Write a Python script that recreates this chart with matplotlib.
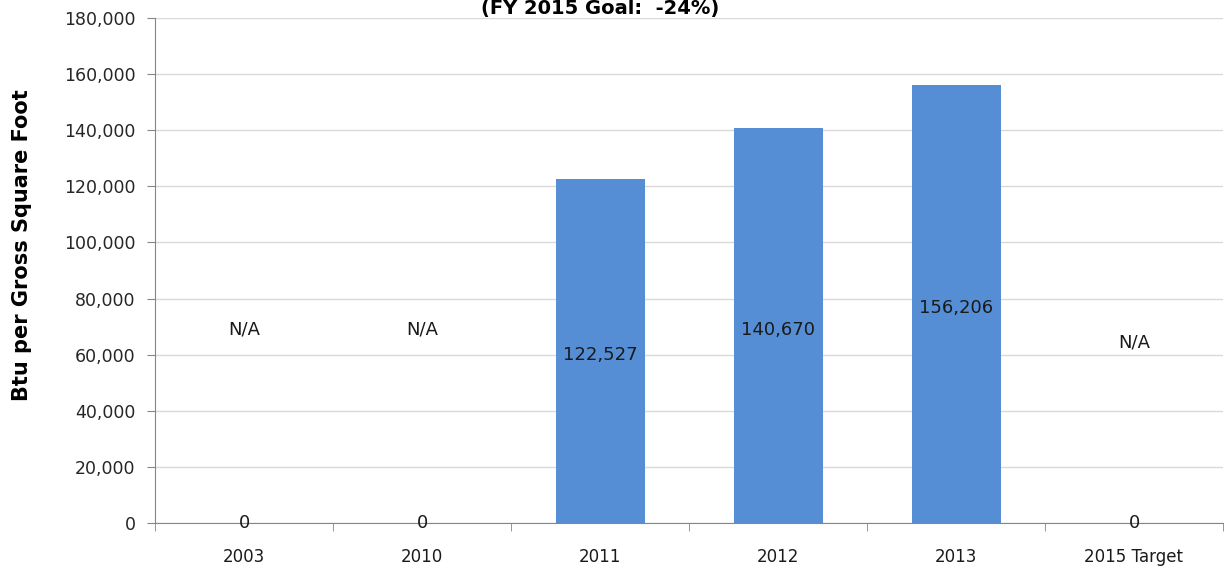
import matplotlib
matplotlib.use("Agg")
import matplotlib.pyplot as plt
from matplotlib.ticker import FuncFormatter, FixedLocator

# chart data
categories = ["2003", "2010", "2011", "2012", "2013", "2015 Target"]
values = [0, 0, 122527, 140670, 156206, 0]
labels = ["N/A", "N/A", "122,527", "140,670", "156,206", "N/A"]
label_heights = [68800, 68800, 59900, 68800, 76600, 64500]
zero_labels = ["0", "0", "", "", "", "0"]

fig = plt.figure(figsize=(12.25, 5.77), dpi=100)
ax = fig.add_axes([155 / 1225, 1 - 523 / 577, 1 - 157 / 1225, (523 - 18) / 577])

x = list(range(len(categories)))
ax.bar(x, values, width=0.5, color="#558ed5", zorder=2)

for xi, lab, h, z in zip(x, labels, label_heights, zero_labels):
    ax.text(xi, h, lab, ha="center", va="center", fontsize=13, color="#1a1a1a", zorder=3)
    if z:
        ax.text(xi, 0, z, ha="center", va="center", fontsize=13, color="#1a1a1a", zorder=3)

ax.set_xlim(-0.5, len(categories) - 0.5)
ax.set_ylim(0, 180000)
ax.set_yticks(range(0, 180001, 20000))
ax.yaxis.set_major_formatter(FuncFormatter(lambda v, p: f"{int(v):,}"))
ax.grid(axis="y", color="#d9d9d9", linewidth=1, zorder=0)

ax.set_xticks(x)
ax.set_xticklabels(categories)
ax.xaxis.set_minor_locator(FixedLocator([i + 0.5 for i in range(-1, len(categories))]))
ax.tick_params(axis="x", which="major", length=0, pad=18, labelsize=12, labelcolor="#1a1a1a")
ax.tick_params(axis="x", which="minor", length=6, color="#868686", direction="out")
ax.tick_params(axis="y", length=6, color="#868686", labelsize=12.5, labelcolor="#262626", pad=8)

for s in ["top", "right"]:
    ax.spines[s].set_visible(False)
ax.spines["left"].set_color("#868686")
ax.spines["bottom"].set_color("#868686")

fig.text(22 / 1225, 1 - 245 / 577, "Btu per Gross Square Foot", rotation=90, ha="center", va="center",
         fontsize=15, fontweight="bold", color="#000000")
fig.text(600 / 1225, 1 - 14 / 577, "(FY 2015 Goal:  -24%)", ha="center", va="baseline",
         fontsize=14, fontweight="bold", color="#000000")

fig.savefig("out.png", dpi=100)
